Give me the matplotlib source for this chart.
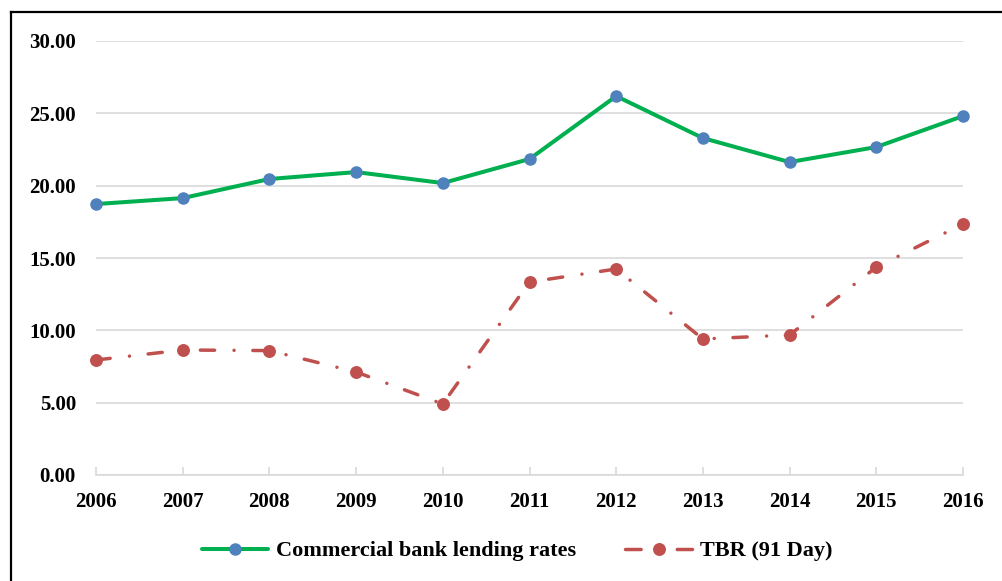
import matplotlib
matplotlib.use("Agg")
import matplotlib.pyplot as plt
from matplotlib.lines import Line2D

years = [2006, 2007, 2008, 2009, 2010, 2011, 2012, 2013, 2014, 2015, 2016]
lending_rates = [18.73, 19.14, 20.46, 20.94, 20.18, 21.84, 26.19, 23.29, 21.63, 22.67, 24.81]
tbr_91_day = [7.95, 8.64, 8.60, 7.12, 4.91, 13.34, 14.24, 9.40, 9.68, 14.37, 17.35]
y_ticks = [0, 5, 10, 15, 20, 25, 30]
series_names = ["Commercial bank lending rates", "TBR (91 Day)"]

GREEN = "#00B050"
BLUE = "#4F81BD"
RED = "#C0504D"
GRID = "#D9D9D9"
FONT = "Liberation Serif"

W, H = 1002, 581
fig = plt.figure(figsize=(W / 100, H / 100), dpi=100)
ax = fig.add_axes([96 / W, 1 - 475 / H, (963 - 96) / W, (475 - 41) / H])

ax.plot(years, lending_rates, color=GREEN, lw=2.9, marker="o", ms=8,
        mfc=BLUE, mec=BLUE, solid_capstyle="round", clip_on=False, zorder=3)
ax.plot(years, tbr_91_day, color=RED, lw=2.5, marker="o", ms=8.3,
        mfc=RED, mec=RED, dashes=[4.1, 5.6, 0.01, 5.4],
        dash_capstyle="round", clip_on=False, zorder=3)

ax.set_xlim(years[0], years[-1])
ax.set_ylim(0, 30)
ax.set_yticks(y_ticks)
ax.set_yticklabels([f"{v:.2f}" for v in y_ticks])
ax.set_xticks(years)
ax.set_xticklabels([str(y) for y in years])

for s in ["top", "right", "left"]:
    ax.spines[s].set_visible(False)
ax.spines["bottom"].set_color(GRID)
ax.spines["bottom"].set_linewidth(1.2)
ax.grid(axis="y", color=GRID, lw=1.2)
ax.set_axisbelow(True)
ax.tick_params(axis="y", length=0, pad=14.4)
ax.tick_params(axis="x", direction="in", length=6, width=1.2, color=GRID, pad=12)
for lab in ax.get_xticklabels() + ax.get_yticklabels():
    lab.set_fontfamily(FONT)
    lab.set_fontweight("bold")
    lab.set_fontsize(15)
    lab.set_color("black")

handles = [
    Line2D([], [], color=GREEN, lw=2.9, marker="o", ms=8, mfc=BLUE, mec=BLUE,
           solid_capstyle="round"),
    Line2D([], [], color=RED, lw=2.5, marker="o", ms=8.3, mfc=RED, mec=RED,
           dashes=[4.5, 10.4], dash_capstyle="round"),
]
fig.legend(handles, series_names, loc="center", bbox_to_anchor=(0.516, 1 - 551 / H),
           ncol=2, frameon=False, handlelength=3.0, handletextpad=0.35,
           columnspacing=2.2, prop={"family": FONT, "weight": "bold", "size": 16})

# page frame around the chart
fig.add_artist(Line2D([11 / W, 11 / W], [0, 1 - 12 / H], transform=fig.transFigure,
                      color="black", lw=1.6))
fig.add_artist(Line2D([11 / W, 1], [1 - 12 / H, 1 - 12 / H], transform=fig.transFigure,
                      color="black", lw=1.6))

fig.savefig("out.png", dpi=100)
